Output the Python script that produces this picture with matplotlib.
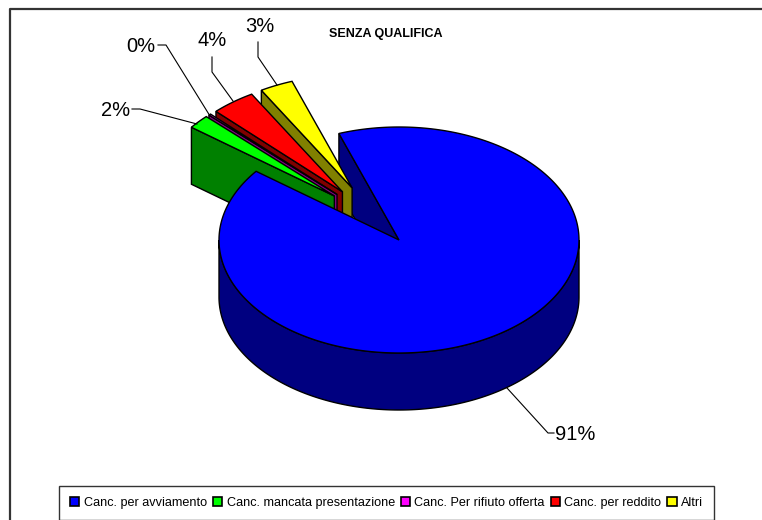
import numpy as np
import matplotlib
matplotlib.use("Agg")
import matplotlib.pyplot as plt
from matplotlib.patches import Patch, Polygon

plt.rcParams['font.family'] = ['Liberation Sans', 'DejaVu Sans']

# values of the pie, clockwise from the blue slice
categories = ["Canc. per avviamento", "Canc. mancata presentazione", "Canc. Per rifiuto offerta",
              "Canc. per reddito", "Altri"]
values = [91, 2, 0.2, 4, 3]
labels = ["91%", "2%", "0%", "4%", "3%"]
top_colors = ["#0000FF", "#00FF00", "#FF00FF", "#FF0000", "#FFFF00"]
side_colors = ["#000080", "#008000", "#800080", "#800000", "#808000"]
explode = [0, 0.53, 0.53, 0.53, 0.53]

# pie geometry, pixels
cx, cy = 399, 240
rx, ry = 180, 113
depth = 57
start = 109.5


def rim(a1, a2, ox, oy, n=200):
    t = np.radians(np.linspace(a1, a2, n))
    return np.column_stack([ox + rx * np.cos(t), oy - ry * np.sin(t)])


fig = plt.figure(figsize=(7.62, 5.2), dpi=100)
ax = fig.add_axes([0, 0, 1, 1])
ax.set_xlim(0, 762)
ax.set_ylim(520, 0)
ax.axis('off')

# outer frame, runs off the right and bottom of the picture
ax.plot([10, 10, 762], [520, 9, 9], color='#333333', lw=1.6, zorder=1)

# slice angles
total = sum(values)
spans = [v / total * 360 for v in values]
ends = start - np.cumsum(spans)
starts = np.concatenate([[start], ends[:-1]])
lw = 1.0

# blue slice sides first
a1, a2 = starts[0], ends[0]
ax.add_patch(Polygon([[cx + rx * np.cos(np.radians(a1)), cy - ry * np.sin(np.radians(a1))],
                      [cx, cy], [cx, cy + depth],
                      [cx + rx * np.cos(np.radians(a1)), cy + depth - ry * np.sin(np.radians(a1))]],
                     fc=side_colors[0], ec='black', lw=lw, zorder=2))
front = rim(-180, 0, cx, cy)
ax.add_patch(Polygon(np.vstack([front, rim(0, -180, cx, cy + depth)]),
                     fc=side_colors[0], ec='black', lw=lw, zorder=2))

# small slices, back to front
z = 3
for i in [4, 3, 2, 1]:
    mid = (starts[i] + ends[i]) / 2 % 360
    # the pull-out directions are closer together than the slice middles
    pull = np.radians(125 + 0.55 * (mid - 125))
    ox = cx + explode[i] * rx * np.cos(pull)
    oy = cy - explode[i] * ry * np.sin(pull)
    arc = rim(starts[i], ends[i], ox, oy, 30)
    # side wall along the lower cut edge (arc runs clockwise, so its first point is the low one)
    wall = [[ox, oy], arc[0], arc[0] + [0, depth], [ox, oy + depth]]
    ax.add_patch(Polygon(wall, fc=side_colors[i], ec='black', lw=lw, zorder=z))
    ax.add_patch(Polygon(np.vstack([[ox, oy], arc]), fc=top_colors[i], ec='black', lw=lw, zorder=z))
    z += 1

# blue top last, it hides the feet of the walls
ax.add_patch(Polygon(np.vstack([[cx, cy], rim(a1, a2, cx, cy, 400)]),
                     fc=top_colors[0], ec='black', lw=lw, zorder=z))

# leader lines and percentage labels
leaders = [([507, 548, 554], [388, 433, 433]),
           ([197, 140, 132], [124, 109, 109]),
           ([210, 166, 158], [116, 45, 45]),
           ([233, 212, 212], [101, 72, 57]),
           ([277, 258, 258], [85, 57, 42])]
label_pos = [(575, 435), (116, 110), (141, 47), (212, 41), (260, 26)]
for (xs, ys), txt, pos in zip(leaders, labels, label_pos):
    ax.plot(xs, ys, color='black', lw=0.8, zorder=z + 1)
    ax.text(pos[0], pos[1], txt, ha='center', va='center', fontsize=14.5, zorder=z + 2)

ax.text(386, 34, "SENZA QUALIFICA", ha='center', va='center', fontsize=9,
        fontweight='bold', zorder=z + 2)

handles = [Patch(fc=c, ec='black', lw=1.2) for c in top_colors]
leg = ax.legend(handles, categories, ncol=5, loc='center', fontsize=9.1,
                bbox_to_anchor=(386.5, 503), bbox_transform=ax.transData,
                fancybox=False, framealpha=1, edgecolor='#333333',
                handlelength=0.75, handleheight=0.75, handletextpad=0.35,
                columnspacing=0.45, borderpad=0.9, borderaxespad=0)
leg.get_frame().set_linewidth(1.0)

fig.savefig("out.png", dpi=100)
